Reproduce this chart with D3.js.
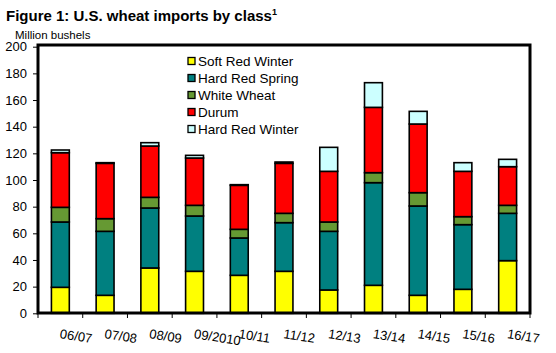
<!DOCTYPE html>
<html>
  <head>
    <script src="https://d3js.org/d3.v7.min.js"></script>
    <style>
      body { margin: 0; background: #fff; }
      text { font-family: Arial, "Liberation Sans", sans-serif; fill: #000; }
    </style>
  </head>
  <body>
    <svg id="chart" width="556" height="353"></svg>
    <script>
      // data (million bushels)
      const years = ["06/07", "07/08", "08/09", "09/2010", "10/11", "11/12", "12/13", "13/14", "14/15", "15/16", "16/17"];
      const classes = ["Soft Red Winter", "Hard Red Spring", "White Wheat", "Durum", "Hard Red Winter"];
      const colors = ["#ffff00", "#008080", "#669933", "#ff0000", "#ccffff"];
      const softRedWinter = [19.5, 13.5, 34, 31.5, 28.5, 31.5, 17.5, 21, 13.5, 18, 39.5];
      const hardRedSpring = [49, 48, 45, 41.5, 28, 36.5, 44, 77, 67, 48.5, 35.5];
      const whiteWheat = [11, 9.5, 8, 8, 6.5, 7, 7, 7.5, 10, 6, 6];
      const durum = [41, 41.5, 38.5, 35.5, 33, 37.5, 38, 49, 51.5, 34, 29];
      const hardRedWinter = [2, 0.5, 2.5, 2, 0.5, 1, 18, 18.5, 9.5, 6.5, 5.5];
      const yTicks = [0, 20, 40, 60, 80, 100, 120, 140, 160, 180, 200];

      const series = [softRedWinter, hardRedSpring, whiteWheat, durum, hardRedWinter];
      const rows = years.map((yr, i) => {
        const r = { year: yr };
        classes.forEach((c, k) => r[c] = series[k][i]);
        return r;
      });
      const stacked = d3.stack().keys(classes)(rows);

      const svg = d3.select("#chart");
      const plotL = 38, plotR = 530, plotT = 45, plotB = 313;

      const x = d3.scaleBand().domain(years).range([plotL, plotR]).paddingInner(0.6).paddingOuter(0.3);
      const y = d3.scaleLinear().domain([0, 200]).range([313.3, 46.7]);

      // title
      const title = svg.append("text")
        .attr("x", 6).attr("y", 21)
        .style("font-size", "15px").style("font-weight", "bold")
        .text("Figure 1: U.S. wheat imports by class");
      title.append("tspan").attr("dy", -6).style("font-size", "9px").text("1");

      svg.append("text")
        .attr("x", 15).attr("y", 38.5)
        .style("font-size", "11.5px")
        .text("Million bushels");

      // bars
      svg.append("g").selectAll("g")
        .data(stacked)
        .join("g")
          .attr("fill", (d, i) => colors[i])
        .selectAll("rect")
        .data(d => d)
        .join("rect")
          .attr("x", d => x(d.data.year))
          .attr("width", x.bandwidth())
          .attr("y", d => y(d[1]))
          .attr("height", d => y(d[0]) - y(d[1]))
          .attr("stroke", "#000")
          .attr("stroke-width", 1.6);

      // frame
      svg.append("rect")
        .attr("x", plotL).attr("y", plotT)
        .attr("width", plotR - plotL).attr("height", plotB - plotT)
        .attr("fill", "none").attr("stroke", "#000").attr("stroke-width", 3);

      // y axis
      const yAxis = svg.append("g")
        .attr("transform", `translate(${plotL},0)`)
        .call(d3.axisLeft(y).tickValues(yTicks).tickSize(5).tickPadding(6));
      yAxis.select(".domain").remove();
      yAxis.selectAll("text").style("font-size", "13px").attr("font-family", null);
      yAxis.selectAll("line").attr("stroke", "#000");

      // x ticks at band boundaries
      const step = (plotR - plotL) / years.length;
      svg.append("g").selectAll("line")
        .data(d3.range(years.length + 1))
        .join("line")
          .attr("x1", i => plotL + i * step).attr("x2", i => plotL + i * step)
          .attr("y1", plotB).attr("y2", plotB + 5)
          .attr("stroke", "#000");

      // x labels, tilted
      svg.append("g").selectAll("text")
        .data(years)
        .join("text")
          .attr("transform", d => `translate(${x(d) + x.bandwidth() / 2 - 1},338) rotate(9)`)
          .style("font-size", "13px")
          .text(d => d);

      // legend
      const legend = svg.append("g").attr("transform", "translate(188,61)");
      const item = legend.selectAll("g")
        .data(classes)
        .join("g")
          .attr("transform", (d, i) => `translate(0,${i * 17})`);
      item.append("rect")
        .attr("x", 0).attr("y", -3.5).attr("width", 7).attr("height", 7)
        .attr("fill", (d, i) => colors[i])
        .attr("stroke", "#000").attr("stroke-width", 1.3);
      item.append("text")
        .attr("x", 10).attr("y", 5)
        .style("font-size", "13.5px")
        .text(d => d);
    </script>
  </body>
</html>
